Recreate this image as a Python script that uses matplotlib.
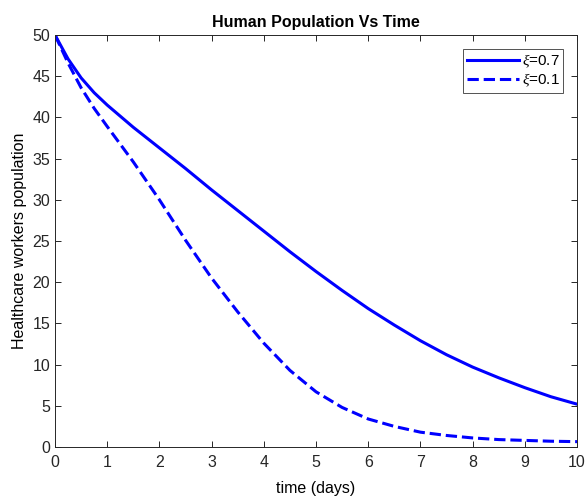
import matplotlib
matplotlib.use("Agg")
import matplotlib.pyplot as plt

plt.rcParams['font.family'] = ['Liberation Sans', 'DejaVu Sans']
plt.rcParams['mathtext.fontset'] = 'custom'
plt.rcParams['mathtext.it'] = 'Liberation Serif:italic'

t = [0, 0.25, 0.5, 0.75, 1, 1.5, 2, 2.5, 3, 3.5, 4, 4.5, 5, 5.5, 6, 6.5, 7, 7.5, 8, 8.5, 9, 9.5, 10]
xi_07 = [50, 47.1, 44.8, 43.0, 41.5, 38.8, 36.3, 33.8, 31.2, 28.7, 26.2, 23.7, 21.3, 19.0, 16.8, 14.8, 12.9, 11.2, 9.7, 8.4, 7.2, 6.1, 5.2]
xi_01 = [50, 46.6, 43.6, 41.1, 38.9, 34.6, 30.0, 25.1, 20.5, 16.4, 12.6, 9.3, 6.7, 4.8, 3.4, 2.5, 1.8, 1.4, 1.1, 0.9, 0.8, 0.7, 0.65]
labels = [r'$\xi$=0.7', r'$\xi$=0.1']

fig = plt.figure(figsize=(5.87, 4.96), dpi=100)
ax = fig.add_axes([0.0937, 0.0988, 0.8893, 0.8306])
ax.plot(t, xi_07, color='#0000ff', lw=2.2, label=labels[0])
ax.plot(t, xi_01, color='#0000ff', lw=2.2, ls='--', label=labels[1])
ax.set_xlim(0, 10)
ax.set_ylim(0, 50)
ax.set_xticks(range(0, 11))
ax.set_yticks(range(0, 51, 5))
ax.tick_params(direction='in', top=True, right=True, length=4, labelsize=11.5, colors='#262626', width=0.7)
ax.tick_params(axis='x', pad=6)
for s in ax.spines.values():
    s.set_color('#262626')
    s.set_linewidth(0.7)
ax.set_title('Human Population Vs Time', fontsize=11.5, fontweight='bold', pad=6)
ax.set_xlabel('time (days)', fontsize=11.5, labelpad=8)
ax.set_ylabel('Healthcare workers population', fontsize=11.5, labelpad=4)
leg = ax.legend(loc='upper right', fontsize=11, frameon=True, fancybox=False, edgecolor='#262626',
                handlelength=3.4, handletextpad=0.15, borderpad=0.25, labelspacing=0.15,
                borderaxespad=0.9)
leg.get_frame().set_linewidth(0.7)
fig.savefig('out.png', dpi=100)
